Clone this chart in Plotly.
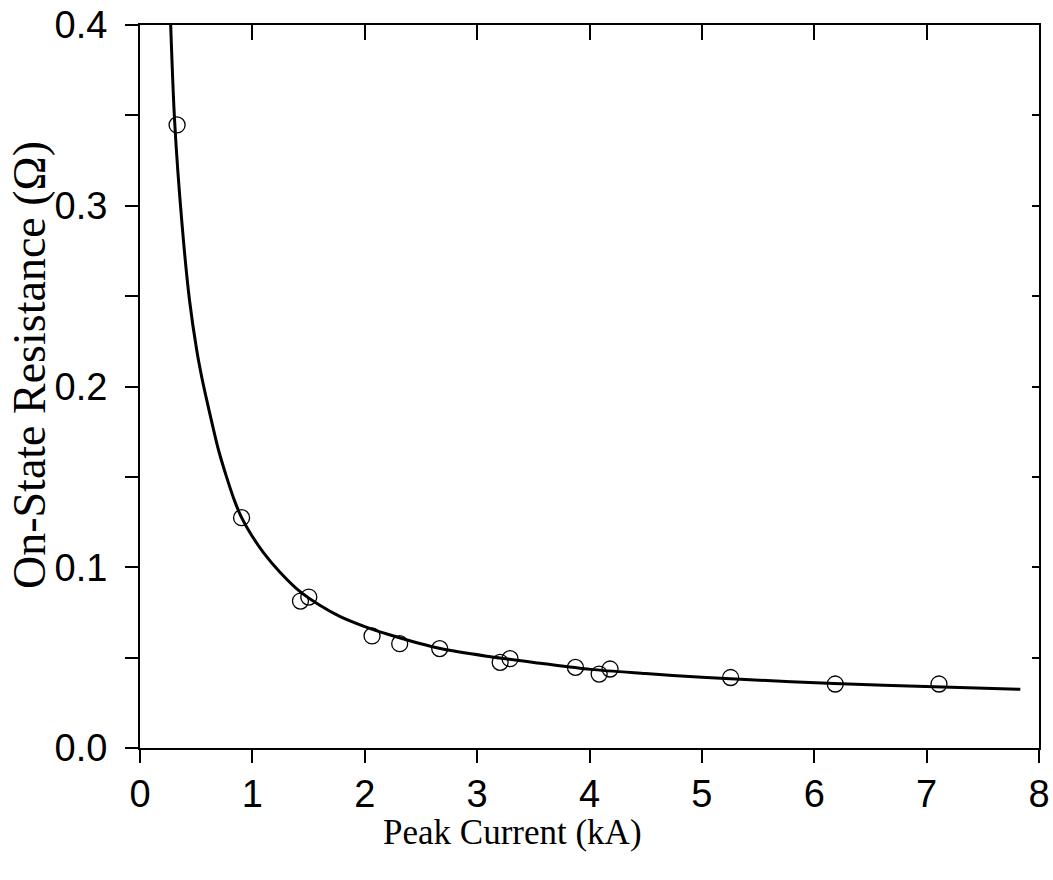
import plotly.graph_objects as go

# Measured on-state resistance versus peak current
peak_current_ka = [0.33, 0.904, 1.428, 1.502, 2.065, 2.311, 2.667, 3.205, 3.293,
                   3.875, 4.086, 4.183, 5.256, 6.187, 7.11]
resistance_ohm = [0.3447, 0.1274, 0.0813, 0.0835, 0.0620, 0.0577, 0.0550, 0.0474, 0.0494,
                  0.0446, 0.0409, 0.0437, 0.0390, 0.0354, 0.0354]

# Fitted trend curve
fit_current_ka = [0.273, 0.308, 0.371, 0.44, 0.505, 0.55, 0.594, 0.698, 0.77, 0.84, 0.90,
                  1.0, 1.10, 1.25, 1.425, 1.6, 1.782, 2.0, 2.227, 2.673, 3.118, 3.563,
                  4.009, 4.5, 5.0, 5.345, 6.177, 7.067, 7.834]
fit_resistance_ohm = [0.400, 0.347, 0.292, 0.248, 0.220, 0.205, 0.1925, 0.165, 0.150, 0.137,
                      0.128, 0.117, 0.108, 0.097, 0.0865, 0.079, 0.0727, 0.0672, 0.0625,
                      0.0550, 0.0505, 0.0469, 0.0435, 0.0412, 0.0391, 0.0380, 0.0357,
                      0.0339, 0.0325]

x_ticks = [0, 1, 2, 3, 4, 5, 6, 7, 8]

fig = go.Figure()
fig.add_trace(go.Scatter(
    x=fit_current_ka, y=fit_resistance_ohm, mode="lines",
    line=dict(color="black", width=3, shape="spline", smoothing=0.8),
    showlegend=False,
))
fig.add_trace(go.Scatter(
    x=peak_current_ka, y=resistance_ohm, mode="markers",
    marker=dict(symbol="circle-open", size=16, color="black", line=dict(width=1.3)),
    showlegend=False,
))
# invisible trace so the mirrored top/right axes are drawn
fig.add_trace(go.Scatter(x=[0], y=[0], xaxis="x2", yaxis="y2", mode="markers",
                         marker=dict(opacity=0), showlegend=False, hoverinfo="skip"))

tick_font = dict(family="Liberation Sans, Arial", size=38, color="black")
serif = "Liberation Serif, Times New Roman"

fig.update_layout(
    width=1053, height=880,
    margin=dict(l=140, r=14, t=25, b=132, autoexpand=False),
    paper_bgcolor="white", plot_bgcolor="white",
    xaxis=dict(
        range=[0, 8], tickmode="array", tickvals=x_ticks, automargin=False,
        ticks="outside", ticklen=13, tickwidth=2, tickcolor="black",
        ticklabelstandoff=-2,
        showline=True, linewidth=2, linecolor="black",
        showgrid=False, zeroline=False, tickfont=tick_font,
    ),
    xaxis2=dict(
        range=[0, 8], overlaying="x", side="top", matches="x", automargin=False,
        tickmode="array", tickvals=x_ticks,
        ticks="inside", ticklen=15, tickwidth=2, tickcolor="black",
        showline=True, linewidth=2, linecolor="black",
        showticklabels=False, showgrid=False, zeroline=False,
    ),
    yaxis=dict(
        range=[0, 0.4], dtick=0.1, tick0=0, tickformat=".1f", automargin=False,
        ticks="outside", ticklen=13, tickwidth=2, tickcolor="black",
        ticklabelstandoff=10,
        minor=dict(dtick=0.05, tick0=0, ticks="outside", ticklen=13, tickwidth=2,
                   tickcolor="black", showgrid=False),
        showline=True, linewidth=2, linecolor="black",
        showgrid=False, zeroline=False, tickfont=tick_font,
    ),
    yaxis2=dict(
        range=[0, 0.4], overlaying="y", side="right", matches="y", automargin=False,
        dtick=0.05, tick0=0,
        ticks="inside", ticklen=7, tickwidth=2, tickcolor="black",
        showline=True, linewidth=2, linecolor="black",
        showticklabels=False, showgrid=False, zeroline=False,
    ),
    annotations=[
        dict(text="Peak Current (kA)", xref="paper", yref="paper", x=0, y=0,
             xanchor="center", yanchor="middle", xshift=372, yshift=-84,
             showarrow=False, font=dict(family=serif, size=35, color="black")),
        dict(text="On-State Resistance (Ω)", xref="paper", yref="paper", x=0, y=0,
             xanchor="center", yanchor="middle", xshift=-111, yshift=383,
             textangle=-90, showarrow=False,
             font=dict(family=serif, size=46, color="black")),
    ],
)

fig.write_html("out.html")
